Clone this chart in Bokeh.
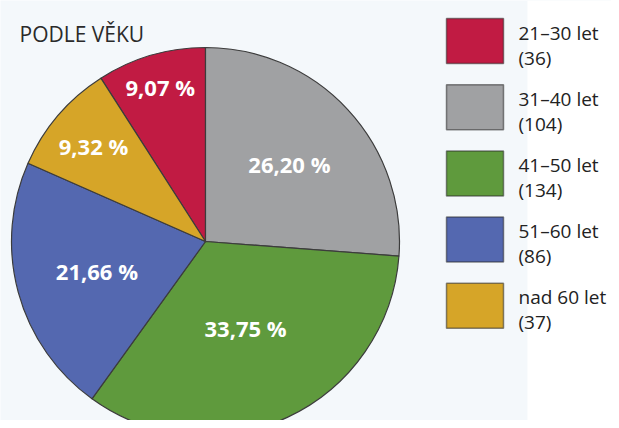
import numpy as np
from bokeh.plotting import figure
from bokeh.models import Range1d, ColumnDataSource, BoxAnnotation
from bokeh.core.properties import value
from bokeh.embed import file_html
from bokeh.resources import INLINE

# ---- data ----
categories = ["21–30 let", "31–40 let", "41–50 let", "51–60 let", "nad 60 let"]
counts = [36, 104, 134, 86, 37]
colors = ["#c11b43", "#a0a1a3", "#5f9a3d", "#5468b0", "#d6a528"]
title_text = "PODLE VĚKU"

# ---- layout / style constants ----
W, H = 611, 420
cx, cy, R = 205, -241, 194
label_r = [0.83, 0.59, 0.49, 0.58, 0.76]
FONT = "Open Sans"

total = sum(counts)
frac = np.array(counts) / total
cum_after = np.cumsum(frac)
cum_before = cum_after - frac
offset = np.pi / 2 + frac[0] * 2 * np.pi
start = offset - cum_after * 2 * np.pi
end = offset - cum_before * 2 * np.pi
mid = (start + end) / 2
pct = [f"{f * 100:.2f} %".replace(".", ",") for f in frac]

src = ColumnDataSource(dict(
    cat=categories, cnt=counts, color=colors, start=start, end=end,
    lx=cx + np.array(label_r) * R * np.cos(mid),
    ly=cy + np.array(label_r) * R * np.sin(mid),
    pct=pct,
))

p = figure(width=W, height=H, output_backend="svg", toolbar_location=None,
           x_range=Range1d(0, W), y_range=Range1d(-H, 0),
           min_border=0)
p.axis.visible = False
p.grid.visible = False
p.outline_line_color = None
p.background_fill_color = "#f4f8fb"
p.border_fill_color = "#f4f8fb"
p.add_layout(BoxAnnotation(left=527, fill_color="white", fill_alpha=1.0,
                           line_alpha=0, level="underlay"))

p.wedge(x=cx, y=cy, radius=R, start_angle="start", end_angle="end",
        fill_color="color", line_color="#3c3c3c", line_width=1.2,
        direction="anticlock", source=src)

p.text(x="lx", y="ly", text="pct", source=src, text_color="white",
       text_font=value(FONT), text_font_style="bold", text_font_size="22px",
       text_align="center", text_baseline="middle")

# title
p.text(x=[19], y=[-33], text=[title_text], text_color="#2a2a2a",
       text_font=value(FONT), text_font_size="21px",
       text_baseline="alphabetic", text_align="left")

# legend
n = len(categories)
idx = np.arange(n)
box_top = 18 + idx * 66.2
leg = ColumnDataSource(dict(
    bx=[474.5] * n, by=-(box_top + 22.5), color=colors,
    tx=[518] * n, t1=-(box_top + 14), t2=-(box_top + 39),
    l1=categories, l2=[f"({c})" for c in counts],
))
p.rect(x="bx", y="by", width=57, height=45, fill_color="color",
       line_color="#2a2a2a", line_alpha=0.55, line_width=1.5, source=leg)
p.text(x="tx", y="t1", text="l1", source=leg, text_color="#222222",
       text_font=value(FONT), text_font_size="19px",
       text_baseline="alphabetic", text_align="left")
p.text(x="tx", y="t2", text="l2", source=leg, text_color="#222222",
       text_font=value(FONT), text_font_size="19px",
       text_baseline="alphabetic", text_align="left")

html = file_html(p, INLINE)
html = html.replace("<body>", '<body style="background:#f4f8fb;">', 1)
open("out.html", "w").write(html)
